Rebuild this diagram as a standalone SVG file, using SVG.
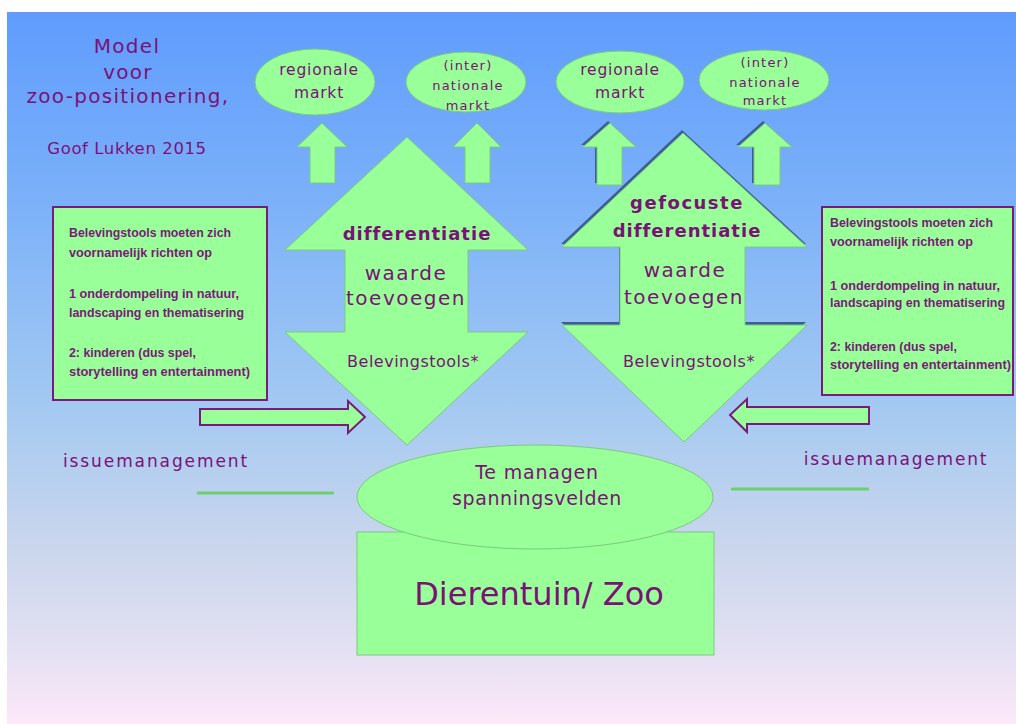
<svg xmlns="http://www.w3.org/2000/svg" width="1016" height="724" viewBox="0 0 1016 724">
<defs>
<linearGradient id="bg" x1="0" y1="12" x2="0" y2="724" gradientUnits="userSpaceOnUse">
<stop offset="0" stop-color="#5f9cfd"/>
<stop offset="0.27" stop-color="#7cb1f9"/>
<stop offset="0.55" stop-color="#a3c9f2"/>
<stop offset="0.75" stop-color="#cad6ec"/>
<stop offset="0.89" stop-color="#e3e0f3"/>
<stop offset="1" stop-color="#fce8f8"/>
</linearGradient>
<style>
.g{fill:#99ff99;stroke:#7acc7a;stroke-width:1}
.box{fill:#99ff99;stroke:#7a1a7a;stroke-width:2}
.harr{fill:#99ff99;stroke:#7a1a7a;stroke-width:2;stroke-linejoin:miter}
.sh{fill:#3d5e95}
.t{font-family:"DejaVu Sans","Liberation Sans",sans-serif;fill:#7a1276;text-anchor:middle}
.b{font-family:"Liberation Sans","DejaVu Sans",sans-serif;font-weight:bold;fill:#7a1a78;font-size:13px}
.line{stroke:#6fcf6f;stroke-width:3;fill:none}
</style>
</defs>
<rect x="0" y="0" width="1016" height="724" fill="#ffffff"/>
<rect x="7" y="12" width="1009" height="712" fill="url(#bg)"/>

<g id="title">
<text class="t" x="127" y="53" font-size="20" letter-spacing="1.3">Model</text>
<text class="t" x="128" y="79" font-size="20" letter-spacing="1.3">voor</text>
<text class="t" x="128" y="103" font-size="20" letter-spacing="1.3">zoo-positionering,</text>
<text class="t" x="127" y="154" font-size="16.5" letter-spacing="0.6">Goof Lukken 2015</text>
</g>

<g id="connectors">
<polygon class="g" points="322,123 347,147 335,147 335,183 310,183 310,147 297,147"/>
<polygon class="g" points="477,123 501,147 490,147 490,183 465,183 465,147 453,147"/>
<g transform="translate(-2,-2)"><polygon class="sh" points="610,123 636,147 622,147 622,185 597,185 597,147 583,147"/></g>
<polygon class="g" points="610,123 636,147 622,147 622,185 597,185 597,147 583,147"/>
<g transform="translate(-2,-2)"><polygon class="sh" points="765,123 792,147 780,147 780,185 754,185 754,147 738,147"/></g>
<polygon class="g" points="765,123 792,147 780,147 780,185 754,185 754,147 738,147"/>
<polygon class="harr" points="200,409 348,409 348,401 365,417 348,433 348,425 200,425"/>
<polygon class="harr" points="869,407 747,407 747,399 730,415 747,432 747,424 869,424"/>
<line class="line" x1="197" y1="493" x2="334" y2="493"/>
<line class="line" x1="731" y1="489" x2="869" y2="489"/>
</g>

<g id="markt1">
<ellipse class="g" cx="315" cy="82" rx="60" ry="33"/>
<text class="t" x="319" y="75" font-size="15.5" letter-spacing="0.8">regionale</text>
<text class="t" x="319" y="98" font-size="15.5" letter-spacing="0.8">markt</text>
</g>
<g id="markt2">
<ellipse class="g" cx="466" cy="82" rx="60" ry="30"/>
<text class="t" x="468" y="70" font-size="13" letter-spacing="1.2">(inter)</text>
<text class="t" x="468" y="90" font-size="13" letter-spacing="1.2">nationale</text>
<text class="t" x="468" y="110" font-size="13" letter-spacing="1.2">markt</text>
</g>
<g id="markt3">
<ellipse class="g" cx="620" cy="82" rx="64" ry="31"/>
<text class="t" x="620" y="75" font-size="15.5" letter-spacing="0.8">regionale</text>
<text class="t" x="620" y="98" font-size="15.5" letter-spacing="0.8">markt</text>
</g>
<g id="markt4">
<ellipse class="g" cx="764" cy="80" rx="65" ry="30"/>
<text class="t" x="765" y="67" font-size="13" letter-spacing="1.2">(inter)</text>
<text class="t" x="765" y="87" font-size="13" letter-spacing="1.2">nationale</text>
<text class="t" x="765" y="105" font-size="13" letter-spacing="1.2">markt</text>
</g>

<g id="pijl-differentiatie">
<polygon class="g" points="407,137 528,250 468,250 468,332 528,332 407,445 285,332 345,332 345,250 285,250"/>
<text class="t" x="417" y="240" font-size="18" font-weight="bold" letter-spacing="1">differentiatie</text>
<text class="t" x="406" y="280" font-size="20" letter-spacing="1.5">waarde</text>
<text class="t" x="406" y="305" font-size="20" letter-spacing="1.5">toevoegen</text>
<text class="t" x="413" y="367" font-size="16" letter-spacing="0.5">Belevingstools*</text>
</g>

<g id="pijl-gefocuste">
<g transform="translate(-1,-3)"><polygon class="sh" points="683,133 807,247 745,247 745,325 807,325 684,442 562,325 620,325 620,247 562,247"/></g>
<polygon class="g" points="683,133 807,247 745,247 745,325 807,325 684,442 562,325 620,325 620,247 562,247"/>
<text class="t" x="687" y="209" font-size="18" font-weight="bold" letter-spacing="1.5">gefocuste</text>
<text class="t" x="687" y="237" font-size="18" font-weight="bold" letter-spacing="1">differentiatie</text>
<text class="t" x="685" y="277" font-size="20" letter-spacing="1.5">waarde</text>
<text class="t" x="684" y="304" font-size="20" letter-spacing="1.5">toevoegen</text>
<text class="t" x="689" y="367" font-size="16" letter-spacing="0.5">Belevingstools*</text>
</g>

<g id="box-links">
<rect class="box" x="53" y="207" width="214" height="193"/>
<text class="b" x="69" y="237" textLength="162" lengthAdjust="spacingAndGlyphs">Belevingstools moeten zich</text>
<text class="b" x="69" y="257" textLength="143" lengthAdjust="spacingAndGlyphs">voornamelijk richten op</text>
<text class="b" x="69" y="298" textLength="170" lengthAdjust="spacingAndGlyphs">1 onderdompeling in natuur,</text>
<text class="b" x="69" y="317" textLength="175" lengthAdjust="spacingAndGlyphs">landscaping en thematisering</text>
<text class="b" x="69" y="357" textLength="127" lengthAdjust="spacingAndGlyphs">2: kinderen (dus spel,</text>
<text class="b" x="69" y="376" textLength="181" lengthAdjust="spacingAndGlyphs">storytelling en entertainment)</text>
</g>

<g id="box-rechts">
<rect class="box" x="822" y="207" width="191" height="188"/>
<text class="b" x="830" y="227" textLength="163" lengthAdjust="spacingAndGlyphs">Belevingstools moeten zich</text>
<text class="b" x="830" y="246" textLength="143" lengthAdjust="spacingAndGlyphs">voornamelijk richten op</text>
<text class="b" x="830" y="290" textLength="170" lengthAdjust="spacingAndGlyphs">1 onderdompeling in natuur,</text>
<text class="b" x="830" y="307" textLength="175" lengthAdjust="spacingAndGlyphs">landscaping en thematisering</text>
<text class="b" x="830" y="351" textLength="127" lengthAdjust="spacingAndGlyphs">2: kinderen (dus spel,</text>
<text class="b" x="830" y="369" textLength="181" lengthAdjust="spacingAndGlyphs">storytelling en entertainment)</text>
</g>

<g id="issue-links">
<text class="t" x="156" y="467" font-size="17" letter-spacing="1.9">issuemanagement</text>
</g>
<g id="issue-rechts">
<text class="t" x="896" y="465" font-size="17" letter-spacing="1.8">issuemanagement</text>
</g>

<g id="zoo">
<rect class="g" x="357" y="532" width="357" height="123"/>
<text class="t" x="539" y="605" font-size="32">Dierentuin/ Zoo</text>
</g>

<g id="spanningsvelden">
<ellipse class="g" cx="535" cy="497" rx="178" ry="52"/>
<text class="t" x="537" y="479" font-size="19" letter-spacing="0.8">Te managen</text>
<text class="t" x="537" y="505" font-size="19" letter-spacing="0.6">spanningsvelden</text>
</g>
</svg>
